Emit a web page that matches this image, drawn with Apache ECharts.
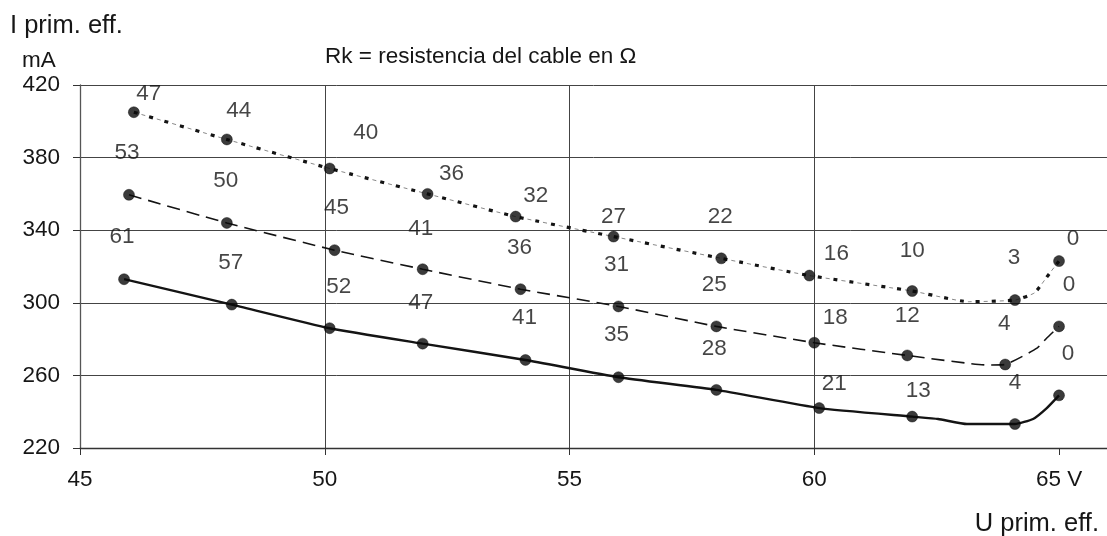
<!DOCTYPE html>
<html>
<head>
<meta charset="utf-8">
<script src="https://cdn.jsdelivr.net/npm/echarts@6/dist/echarts.min.js"></script>
<style>
  html, body { margin: 0; padding: 0; background: #fff; }
  #chart { width: 1107px; height: 536px; }
</style>
</head>
<body>
<div id="chart"></div>
<script>
// Measuring points: primary voltage U (V) and primary current I (mA), three cable families
const uTop = [46.1, 48, 50.1, 52.1, 53.9, 55.9, 58.1, 59.9, 62, 64.1, 65];
const iTop = [405, 390, 374, 360, 347.5, 336.5, 324.5, 315, 306.5, 301.5, 323];
const uMid = [46, 48, 50.2, 52, 54, 56, 58, 60, 61.9, 63.9, 65];
const iMid = [359.5, 344, 329, 318.5, 307.5, 298, 287, 278, 271, 266, 287];
const uLow = [45.9, 48.1, 50.1, 52, 54.1, 56, 58, 60.1, 62, 64.1, 65];
const iLow = [313, 299, 286, 277.5, 268.5, 259, 252, 242, 237.3, 233.2, 249];

// Cable resistance Rk (Ω) noted beside each point
const rkTop = [47, 44, 40, 36, 32, 27, 22, 16, 10, 3, 0];
const rkMid = [53, 50, 45, 41, 36, 31, 25, 18, 12, 4, 0];
const rkLow = [61, 57, 52, 47, 41, 35, 28, 21, 13, 4, 0];

// Where each curve bends between measuring points (flat dip, then upturn to 65 V)
const bendUTop = [63.15, 64.5, 64.8];
const bendITop = [300.6, 305.5, 316];
const bendUMid = [63.55, 64.55, 64.75];
const bendIMid = [265.7, 275, 280.6];
const bendULow = [62.53, 63.12, 64.47, 64.75];
const bendILow = [236, 233.2, 236, 242];

// Axis ticks
const uTicks = [45, 50, 55, 60, 65];
const iTicks = [220, 260, 300, 340, 380, 420];

// Label placement around the dots (px, relative to the dot centre)
const offTop = [[15,-18],[12,-29],[36,-36],[24,-20],[20,-21],[0,-20],[-1,-42],[27,-22],[0,-40],[-1,-42],[14,-22]];
const offMid = [[-2,-42],[-1,-42],[2,-42],[-2,-40],[-1,-41],[-2,-42],[-2,-42],[21,-25],[0,-40],[-1,-41],[10,-42]];
const offLow = [[-2,-42],[-1,-42],[9,-41],[-2,-41],[-1,-42],[-2,-42],[-2,-41],[15,-24],[6,-26],[0,-41],[9,-42]];

const FONT = 'Liberation Sans';
const INK = '#141414';
const TXT = '#161616';

function zip(xs, ys) { return xs.map((x, i) => [x, ys[i]]); }
function curve(xs, ys, bx, by) {
  return zip(xs, ys).concat(zip(bx, by)).sort((a, b) => a[0] - b[0]);
}
function dots(xs, ys, rk, off) {
  return xs.map((x, i) => ({
    value: [x, ys[i]],
    label: { formatter: String(rk[i]), offset: off[i] }
  }));
}

const lineBase = { type: 'line', showSymbol: false, symbol: 'none', silent: true, smooth: 0.15, z: 3 };
const dotBase = {
  type: 'scatter', symbol: 'circle', symbolSize: 11, z: 5, silent: true,
  itemStyle: { color: '#0a0a0a', borderColor: '#000', borderWidth: 0.5 },
  label: { show: true, position: 'inside', color: TXT, fontFamily: FONT, fontSize: 22.5 }
};

const chart = echarts.init(document.getElementById('chart'), null, { renderer: 'canvas' });
chart.setOption({
  backgroundColor: '#fff',
  animation: false,
  grid: { left: 80, right: 0, top: 85, bottom: 88, containLabel: false },
  xAxis: {
    type: 'value', min: uTicks[0], max: 65.98, interval: 5,
    axisLine: { show: true, onZero: false, lineStyle: { color: '#333', width: 1.3 } },
    axisTick: { show: true, length: 7, customValues: uTicks, lineStyle: { color: '#333', width: 1 } },
    splitLine: { show: true, showMinLine: false, showMaxLine: false, lineStyle: { color: '#444', width: 1 } },
    axisLabel: {
      margin: 20, color: TXT, fontFamily: FONT, fontSize: 22.5, customValues: uTicks,
      formatter: v => (v === 65 ? '65 V' : String(v))
    }
  },
  yAxis: {
    type: 'value', min: iTicks[0], max: iTicks[iTicks.length - 1], interval: 40,
    axisLine: { show: true, lineStyle: { color: '#555', width: 1.3 } },
    axisTick: { show: true, length: 7, lineStyle: { color: '#333', width: 1 } },
    splitLine: { show: true, lineStyle: { color: '#444', width: 1 } },
    axisLabel: { margin: 20, color: TXT, fontFamily: FONT, fontSize: 22.5 }
  },
  series: [
    // upper family: heavy square dots with a fine dash in each gap
    Object.assign({}, lineBase, { data: curve(uTop, iTop, bendUTop, bendITop),
      lineStyle: { color: INK, width: 3.2, type: [4, 12], cap: 'butt' } }),
    Object.assign({}, lineBase, { data: curve(uTop, iTop, bendUTop, bendITop),
      lineStyle: { color: '#555', width: 0.7, type: [4, 12], dashOffset: -8, cap: 'butt' } }),
    // middle family: dashed
    Object.assign({}, lineBase, { data: curve(uMid, iMid, bendUMid, bendIMid),
      lineStyle: { color: INK, width: 1.6, type: [13, 7], cap: 'butt' } }),
    // lower family: solid
    Object.assign({}, lineBase, { data: curve(uLow, iLow, bendULow, bendILow),
      lineStyle: { color: INK, width: 2.4, type: 'solid' } }),
    Object.assign({}, dotBase, { data: dots(uTop, iTop, rkTop, offTop) }),
    Object.assign({}, dotBase, { data: dots(uMid, iMid, rkMid, offMid) }),
    Object.assign({}, dotBase, { data: dots(uLow, iLow, rkLow, offLow) })
  ],
  graphic: [
    { type: 'text', x: 10, y: 26, style: { text: 'I prim. eff.', fill: TXT, fontFamily: FONT, fontSize: 25.5, align: 'left', verticalAlign: 'middle' } },
    { type: 'text', x: 22, y: 61, style: { text: 'mA', fill: TXT, fontFamily: FONT, fontSize: 22.5, align: 'left', verticalAlign: 'middle' } },
    { type: 'text', x: 325, y: 57, style: { text: 'Rk = resistencia del cable en Ω', fill: TXT, fontFamily: FONT, fontSize: 22.5, align: 'left', verticalAlign: 'middle' } },
    { type: 'text', x: 1099, y: 524, style: { text: 'U prim. eff.', fill: TXT, fontFamily: FONT, fontSize: 25.5, align: 'right', verticalAlign: 'middle' } }
  ]
});
</script>
</body>
</html>
